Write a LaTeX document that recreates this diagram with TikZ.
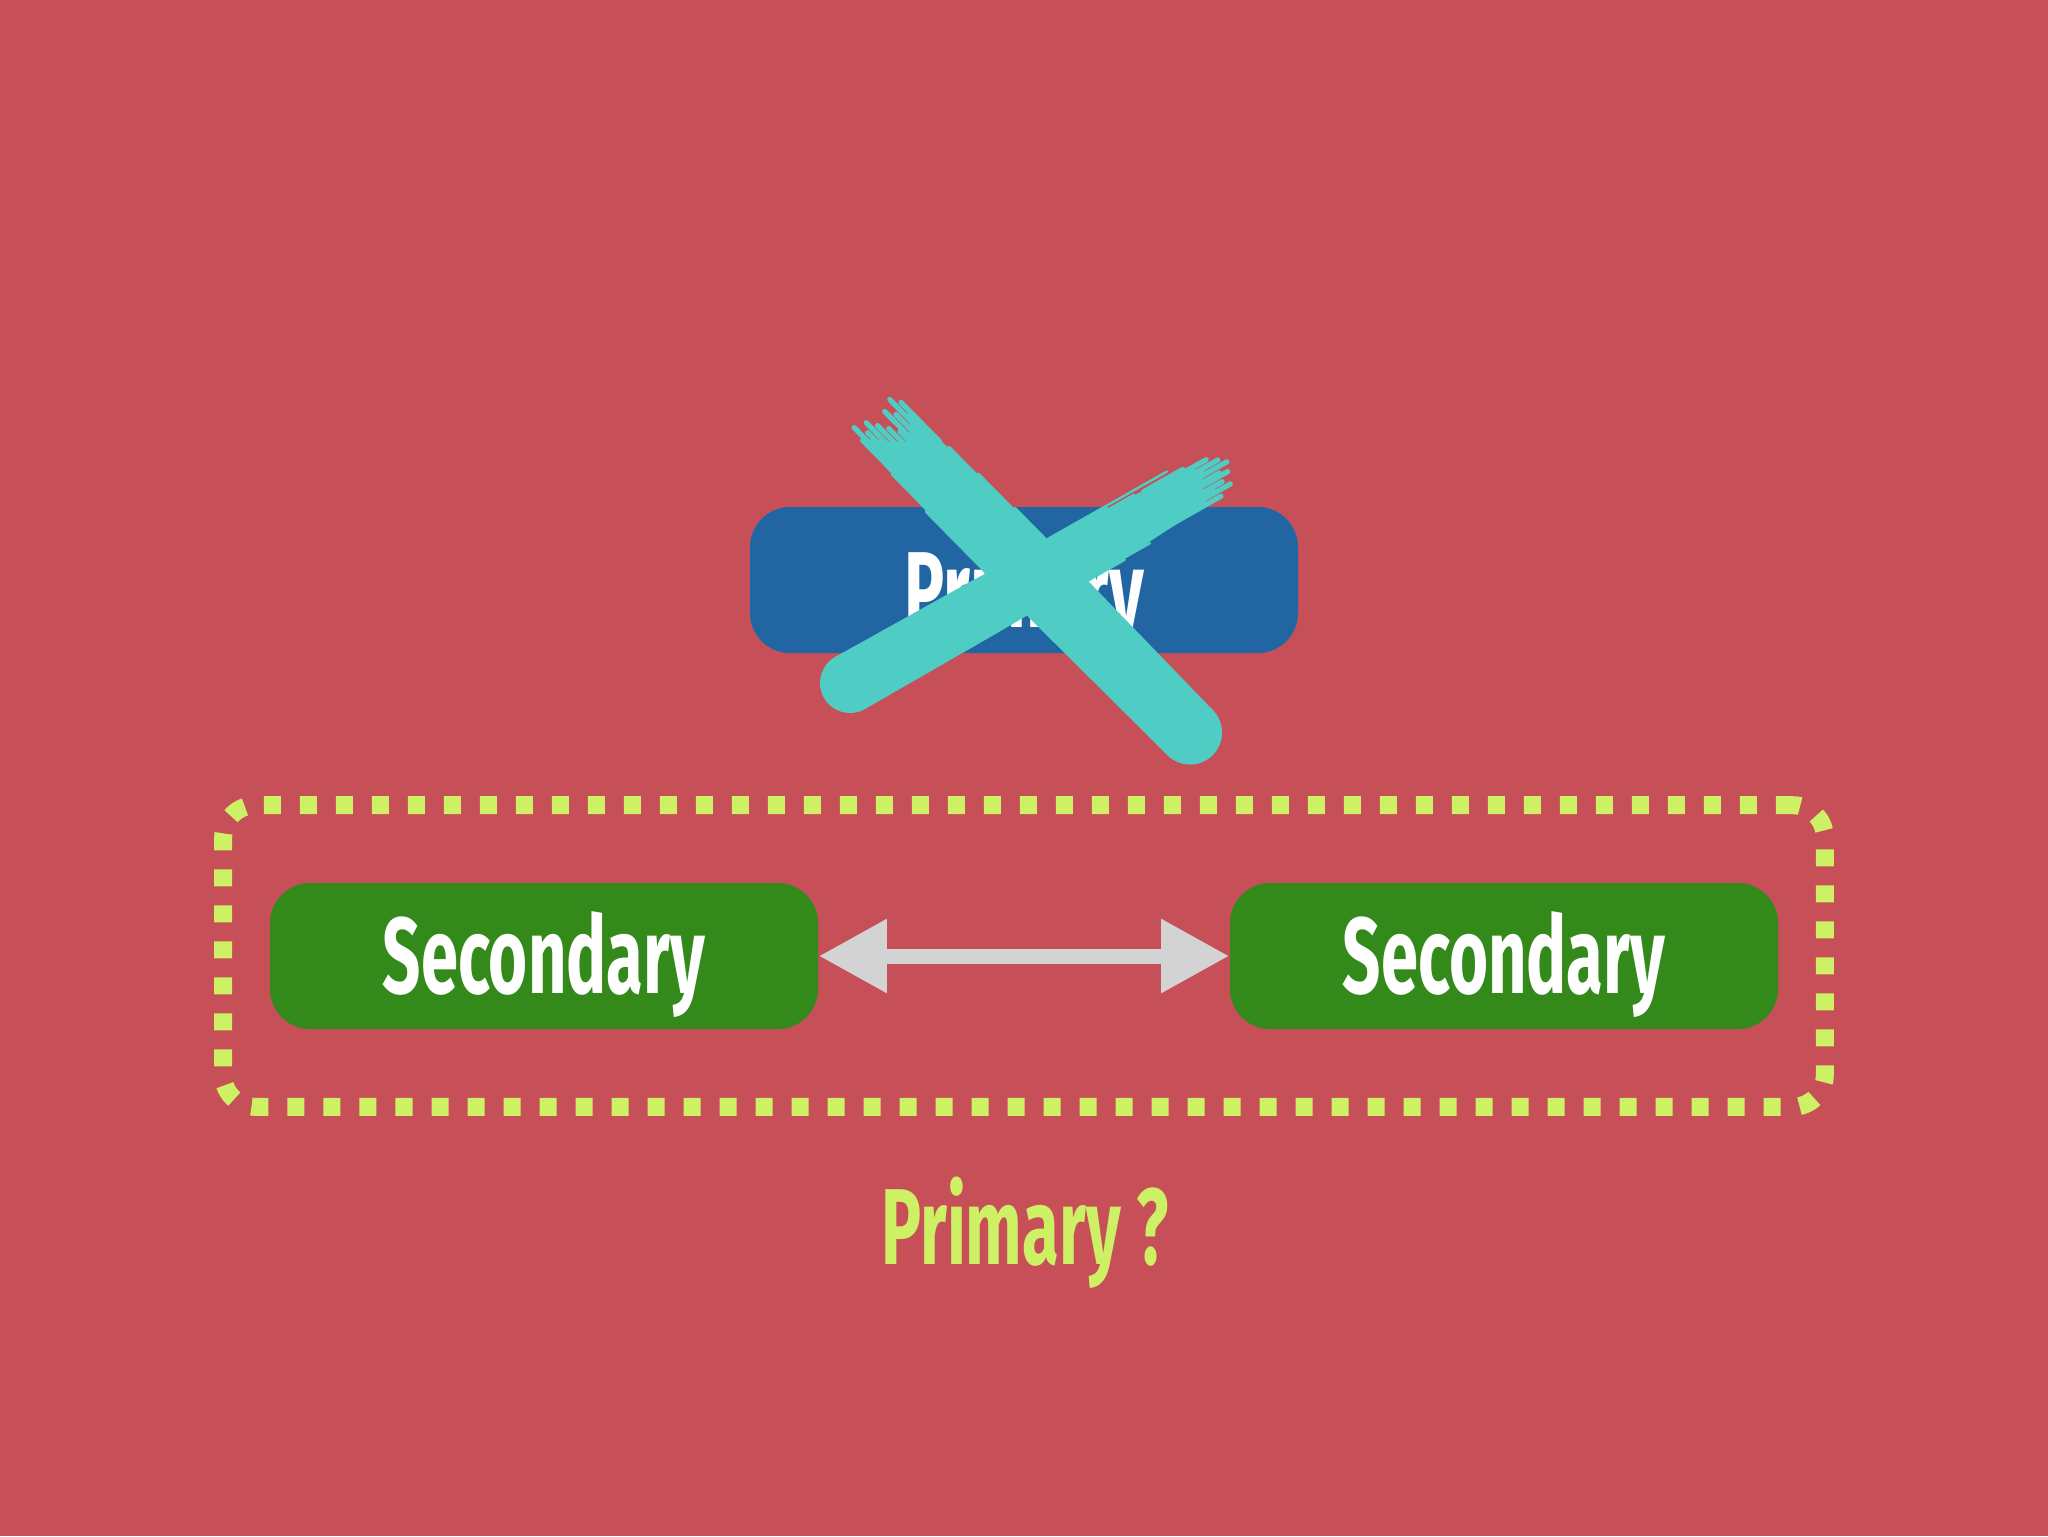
\documentclass[tikz,border=0pt]{standalone}
\usepackage{fontspec}
\newfontfamily\condfont[FakeStretch=0.62]{Fira Sans}
\usetikzlibrary{arrows.meta,fit}
\definecolor{bg}{HTML}{C64F58}
\definecolor{bluebox}{HTML}{2166A3}
\definecolor{greenbox}{HTML}{338A1B}
\definecolor{dashc}{HTML}{CDF064}
\definecolor{teal}{HTML}{4FCDC4}
\definecolor{arrowgray}{HTML}{D3D3D3}
\begin{document}
\begin{tikzpicture}[x=0.25pt,y=-0.25pt,
  labelfont/.style={font=\condfont\bfseries\fontsize{27}{27}\selectfont},
  box/.style={labelfont, rounded corners=10pt, minimum width=137pt, minimum height=36.5pt,
    inner sep=0pt, text=white, text height=18.5pt, text depth=0pt},
  group/.style={draw=dashc, line width=4.5pt, dash pattern=on 4.25pt off 4.75pt,
    rounded corners=8pt, inner xsep=11.5pt, inner ysep=19.25pt},
  brush/.style={fill=teal},
  bristle/.style={draw=teal, line width=1.3pt, line cap=round},
  hair/.style={draw=teal, line width=0.6pt, line cap=round}]
\useasboundingbox (0,0) rectangle (2048,1536);
\fill[bg] (0,0) rectangle (2048,1536);
% nodes
\node[box, fill=bluebox, text height=23.5pt] (prim) at (1024,580) {Primary};
\node[box, fill=greenbox] (sl) at (544,956) {Secondary};
\node[box, fill=greenbox] (sr) at (1504,956) {Secondary};
\node[group, fit=(sl)(sr)] (grp) {};
\node[labelfont, text=dashc, anchor=base] (q) at (1025,1264) {Primary ?};
% double arrow
\draw[arrowgray, line width=3.75pt,
  {Triangle[length=17pt,width=17.5pt]}-{Triangle[length=17pt,width=17.5pt]}]
  (sl.east) -- (sr.west);
% the X brush strokes
% stroke 1: feathered top-left end to round bottom-right end
\begin{scope}[shift={(872,410)}, rotate=-45.4]
  \fill[brush] (50,-26) -- (130,-31) -- (260,-34) -- (453,-32) -- (453,32)
     -- (260,34) -- (130,33) -- (40,30) -- cycle;
  \fill[brush] (453,0) circle [radius=8pt];
  \foreach \s/\l in {-26/30,-23/45,-20/20,-17/55,-14/35,-11/60,-8/25,-5/50,-2/65,1/40,4/58,7/30,10/52,13/20,16/44,19/28,22/38,25/15,28/30}
    \draw[bristle] (70,\s) -- (\l-15,\s);
  \foreach \s/\l in {-29/80,-31/120,-33/170,31/60,33/110}
    \draw[hair] (220,\s) -- (\l,\s);
\end{scope}
% stroke 2: round bottom-left end to feathered top-right end
\begin{scope}[shift={(850,683)}, rotate=29.5]
  \fill[brush] (0,-30) -- (150,-29) -- (290,-26) -- (370,-22) -- (370,22)
     -- (290,27) -- (150,29) -- (0,30) -- cycle;
  \fill[brush] (0,0) circle [radius=7.5pt];
  \foreach \s/\l in {-22/20,-19/45,-16/28,-13/55,-10/35,-7/62,-4/30,-1/50,2/58,5/25,8/48,11/36,14/54,17/22,20/40}
    \draw[bristle] (350,\s) -- (375+\l,\s);
  \foreach \s/\l in {-24/340,-26/310,-28/380,26/330,28/300}
    \draw[hair] (220,\s) -- (\l,\s);
\end{scope}
\end{tikzpicture}
\end{document}
